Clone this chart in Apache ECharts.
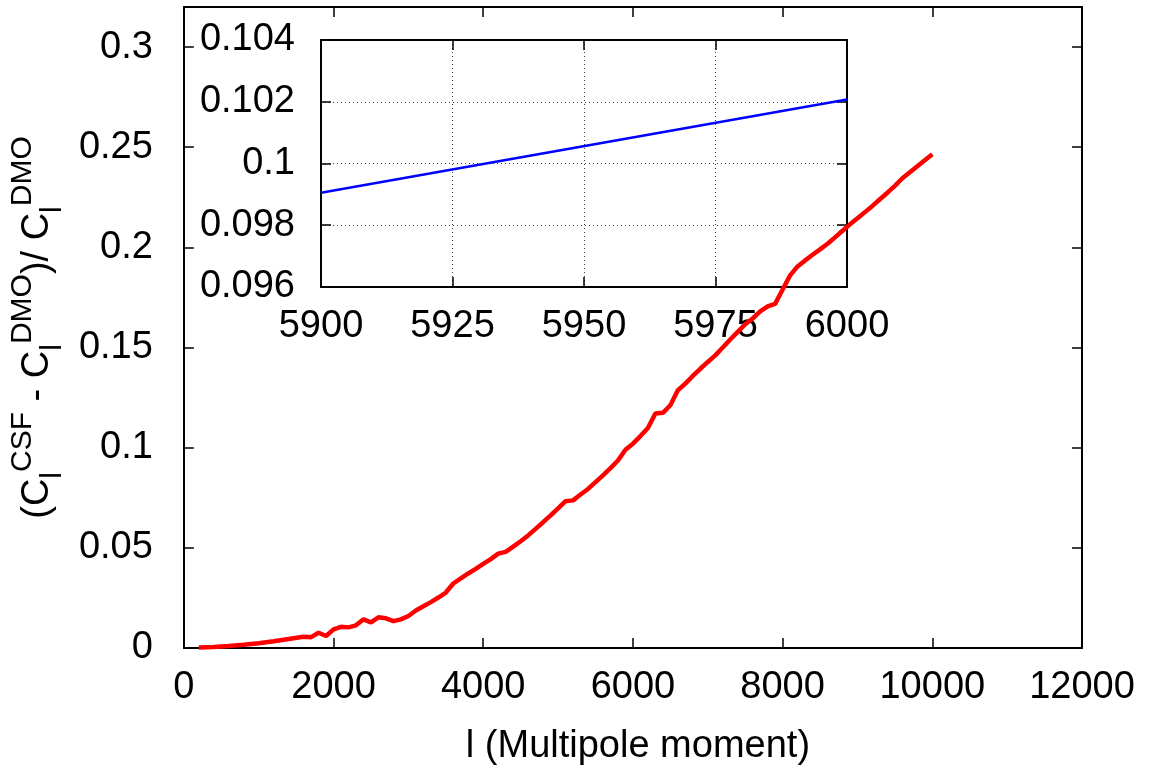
<!DOCTYPE html>
<html><head><meta charset="utf-8">
<script src="https://cdn.jsdelivr.net/npm/echarts@6/dist/echarts.min.js"></script>
<style>html,body{margin:0;padding:0;background:#fff}#c{width:1158px;height:775px}</style>
</head><body><div id="c"></div>
<script>
// ---- main curve: l vs (C_l^CSF - C_l^DMO)/C_l^DMO ----
const ell = [200,400,600,800,1000,1200,1400,1600,1700,1800,1900,2000,2100,2200,2300,2400,2500,2600,2700,2800,2900,3000,3100,3200,3300,3400,3500,3600,3700,3800,3900,4000,4100,4200,4300,4400,4500,4600,4700,4800,4900,5000,5100,5200,5300,5400,5500,5600,5700,5800,5900,6000,6100,6200,6300,6400,6500,6600,6700,6800,6900,7000,7100,7200,7300,7400,7500,7600,7700,7800,7900,8000,8100,8200,8300,8400,8500,8600,8700,8800,8900,9000,9100,9200,9300,9400,9500,9600,9700,9800,9900,10000];
const ratio = [0.0002,0.0005,0.0010,0.0016,0.0024,0.0034,0.0045,0.0056,0.0054,0.0076,0.0060,0.0093,0.0106,0.0103,0.0113,0.0143,0.0128,0.0153,0.0148,0.0134,0.0143,0.0160,0.0187,0.0208,0.0229,0.0252,0.0277,0.0322,0.0347,0.0372,0.0395,0.0420,0.0444,0.0471,0.0480,0.0506,0.0533,0.0562,0.0595,0.0628,0.0662,0.0697,0.0733,0.0737,0.0766,0.0794,0.0828,0.0862,0.0898,0.0936,0.0990,0.1020,0.1058,0.1098,0.1171,0.1174,0.1212,0.1287,0.1320,0.1358,0.1394,0.1428,0.1461,0.1500,0.1540,0.1578,0.1616,0.1645,0.1680,0.1705,0.1718,0.1790,0.1860,0.1905,0.1935,0.1963,0.1990,0.2018,0.2050,0.2083,0.2115,0.2145,0.2176,0.2207,0.2240,0.2273,0.2307,0.2345,0.2375,0.2405,0.2435,0.2465];
// ---- inset (zoom 5900-6000) ----
const insetEll = [5900, 6000];
const insetRatio = [0.09905, 0.10207];
// ---- tick labels ----
const mainXTicks = ['0','2000','4000','6000','8000','10000','12000'];
const mainYTicks = ['0','0.05','0.1','0.15','0.2','0.25','0.3'];
const insetXTicks = ['5900','5925','5950','5975','6000'];
const insetYTicks = ['0.096','0.098','0.1','0.102','0.104'];
// ---- axis titles ----
const xTitle = 'l (Multipole moment)';
const yTitle = '{m|(C}{sb|l}{sp|CSF}{m| - C}{sb|l}{sp|DMO}{m|)/ C}{sb|l}{sp|DMO}';

const FONT = 'Liberation Sans';
const FS = 38;
function lab(list){
  return function(v){
    for (const s of list){ if (Math.abs(parseFloat(s) - v) < 1e-9) return s; }
    return '';
  };
}
const frame = {show:true, onZero:false, lineStyle:{color:'#000', width:2}};
const tickIn = {show:true, inside:true, length:10, lineStyle:{color:'#000', width:1.5}};
const lblStyle = {color:'#000', fontFamily:FONT, fontSize:FS};

const chart = echarts.init(document.getElementById('c'), null, {renderer:'canvas'});
chart.setOption({
  backgroundColor:'#fff',
  animation:false,
  grid:[
    {left:178, top:7, right:76, bottom:127, containLabel:false},
    {left:321, top:40, width:526, height:247, containLabel:false}
  ],
  xAxis:[
    {gridIndex:0, type:'value', position:'bottom', min:0, max:12000, interval:2000,
     axisLine:frame, axisTick:tickIn, splitLine:{show:false},
     axisLabel:Object.assign({margin:21, formatter:lab(mainXTicks)}, lblStyle),
     name:xTitle, nameLocation:'middle', nameGap:80,
     nameTextStyle:{color:'#000', fontFamily:FONT, fontSize:FS, padding:[0,0,0,10]}},
    {gridIndex:0, type:'value', position:'top', min:0, max:12000, interval:2000,
     axisLine:frame, axisTick:tickIn, splitLine:{show:false}, axisLabel:{show:false}},
    {gridIndex:1, type:'value', position:'bottom', min:5900, max:6000, interval:25,
     axisLine:frame, axisTick:tickIn,
     splitLine:{show:true, lineStyle:{color:'#444', type:[1,3], width:1}},
     axisLabel:Object.assign({margin:21, formatter:lab(insetXTicks)}, lblStyle)},
    {gridIndex:1, type:'value', position:'top', min:5900, max:6000, interval:25,
     axisLine:frame, axisTick:tickIn, splitLine:{show:false}, axisLabel:{show:false}}
  ],
  yAxis:[
    {gridIndex:0, type:'value', position:'left', min:0, max:0.32, interval:0.05,
     axisLine:frame, axisTick:tickIn, splitLine:{show:false},
     axisLabel:Object.assign({margin:31, formatter:lab(mainYTicks)}, lblStyle),
     name:yTitle, nameLocation:'middle', nameRotate:90, nameGap:98,
     nameTextStyle:{color:'#000', fontFamily:FONT,
       rich:{
         m:{fontFamily:FONT, fontSize:FS, color:'#000', lineHeight:60, verticalAlign:'middle'},
         sp:{fontFamily:FONT, fontSize:30, color:'#000', lineHeight:26, verticalAlign:'top'},
         sb:{fontFamily:FONT, fontSize:30, color:'#000', lineHeight:38, verticalAlign:'bottom'}
       }}},
    {gridIndex:0, type:'value', position:'right', min:0, max:0.32, interval:0.05,
     axisLine:frame, axisTick:tickIn, splitLine:{show:false}, axisLabel:{show:false}},
    {gridIndex:1, type:'value', position:'left', min:0.096, max:0.104, interval:0.002,
     axisLine:frame, axisTick:tickIn,
     splitLine:{show:true, lineStyle:{color:'#444', type:[1,3], width:1}},
     axisLabel:Object.assign({margin:26, formatter:lab(insetYTicks)}, lblStyle)},
    {gridIndex:1, type:'value', position:'right', min:0.096, max:0.104, interval:0.002,
     axisLine:frame, axisTick:tickIn, splitLine:{show:false}, axisLabel:{show:false}}
  ],
  series:[
    {type:'line', xAxisIndex:0, yAxisIndex:0, showSymbol:false, symbol:'none',
     data:ell.map((x,i)=>[x, ratio[i]]), z:10,
     lineStyle:{color:'#ff0000', width:4.5}},
    {type:'line', xAxisIndex:2, yAxisIndex:2, showSymbol:false, symbol:'none',
     data:insetEll.map((x,i)=>[x, insetRatio[i]]), z:9,
     lineStyle:{color:'#0000ff', width:2.5}}
  ]
});
</script></body></html>
